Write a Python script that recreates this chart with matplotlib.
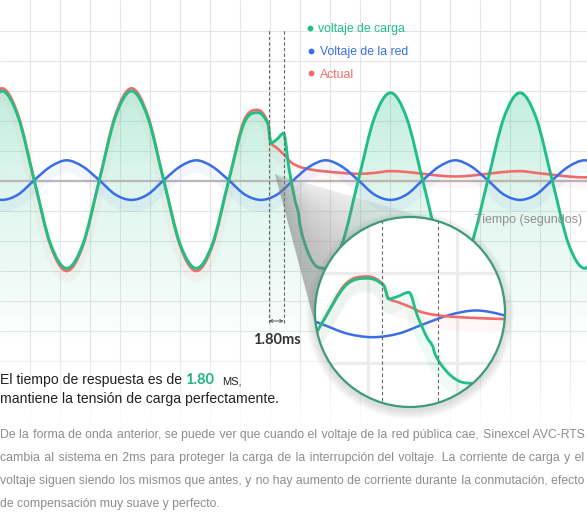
import numpy as np
import matplotlib
matplotlib.use("Agg")
import matplotlib.pyplot as plt
from matplotlib.path import Path
from matplotlib.patches import PathPatch, Circle, Polygon
from matplotlib import transforms
from matplotlib.collections import LineCollection

# ---------------- data ----------------
# time in ms, values normalised to the load-voltage amplitude
t_grid = [-2.5, 0, 2.5, 5, 7.5, 10, 12.5, 15, 17.5, 20, 22.5, 25, 27.5, 30, 32.5,
          35, 37.5, 40, 42.5, 45, 47.5, 50, 52.5, 55, 57.5, 60, 62.5, 65, 67.5,
          70, 72.5, 75, 77.5, 80, 82.5, 85, 87.5, 90, 92.5]
grid_voltage = [-0.15, -0.21, -0.15, 0.01, 0.16, 0.23, 0.16, 0.01, -0.15, -0.21,
                -0.15, 0.01, 0.16, 0.23, 0.16, 0.01, -0.15, -0.21, -0.15, 0.01,
                0.16, 0.23, 0.16, 0.01, -0.15, -0.21, -0.15, 0.01, 0.16, 0.23,
                0.16, 0.01, -0.15, -0.21, -0.15, 0.01, 0.16, 0.23, 0.16]

t_load = [-2.5, 0, 2.5, 5, 7.5, 10, 12.5, 15, 17.5, 20, 22.5, 25, 27.5, 30, 32.5,
          35, 37.5, 39.5, 41.1, 41.5, 42.4, 43.5, 44.3, 45.2, 45.8, 46.0, 46.6,
          47.6, 48.6, 49.8, 52.5, 55, 57.5, 60, 62.5, 65, 67.5, 70, 72.5, 75,
          77.5, 80, 82.5, 85, 87.5, 90, 92.5]
load_voltage = [0.71, 1.0, 0.71, 0.0, -0.70, -0.97, -0.70, 0.0, 0.71, 1.0, 0.71,
                0.0, -0.70, -0.97, -0.70, 0.0, 0.66, 0.76, 0.63, 0.42, 0.46, 0.53,
                0.15, -0.20, -0.36, -0.48, -0.66, -0.85, -0.95, -0.97, -0.70, 0.0,
                0.70, 0.98, 0.70, 0.0, -0.70, -0.97, -0.70, 0.0, 0.70, 0.98, 0.70,
                0.0, -0.70, -0.97, -0.70]

t_current = [-2.5, 0, 2.5, 5, 7.5, 10, 12.5, 15, 17.5, 20, 22.5, 25, 27.5, 30,
             32.5, 35, 37.5, 39.5, 41.0, 41.5, 42.4, 43.6, 44.6, 45.9, 47.5, 49.5,
             52.5, 55, 57.5, 60, 62.5, 65, 67.5, 70, 72.5, 75, 77.5, 80, 82.5, 85,
             87.5, 90, 92.5]
current = [0.73, 1.03, 0.73, 0.0, -0.72, -1.0, -0.72, 0.0, 0.73, 1.03, 0.73, 0.0,
           -0.72, -1.0, -0.72, 0.0, 0.69, 0.79, 0.66, 0.44, 0.37, 0.29, 0.21, 0.16,
           0.13, 0.11, 0.09, 0.08, 0.09, 0.11, 0.10, 0.08, 0.06, 0.05, 0.06, 0.08,
           0.10, 0.11, 0.09, 0.07, 0.05, 0.04, 0.05]

event_times = [41.2, 43.5]          # dashed markers (ms)
response_label = "1.80ms"
legend_labels = ["voltaje de carga", "Voltaje de la red", "Actual"]
axis_label = "Tiempo (segundos)"
heading = ["El tiempo de respuesta es de ", "1.80", "MS,",
           "mantiene la tensión de carga perfectamente."]
paragraph = [
    "De la forma de onda anterior, se puede ver que cuando el voltaje de la red pública cae, Sinexcel AVC-RTS",
    "cambia al sistema en 2ms para proteger la carga de la interrupción del voltaje. La corriente de carga y el",
    "voltaje siguen siendo los mismos que antes, y no hay aumento de corriente durante la conmutación, efecto",
    "de compensación muy suave y perfecto.",
]

# ---------------- style / layout ----------------
GREEN, BLUE, RED = "#1fbf86", "#3a6ee6", "#f26b6b"
W, H, DPI = 587, 520, 100
PX_PER_MS, X0_PX, ZERO_PX, PX_PER_V = 6.475, 2.0, 181.0, 90.0
CIRC_C, CIRC_R = (410.0, 312.0), 95.0
APEX = (275.0, 174.0)
PARA_SIZE = 8.85
PARA_FAMILY = ["Liberation Sans", "DejaVu Sans"]
PARA_RIGHT = 585

fig = plt.figure(figsize=(W / DPI, H / DPI), dpi=DPI)
fig.patch.set_facecolor("white")


def px_axes(z):
    a = fig.add_axes([0, 0, 1, 1], zorder=z)
    a.set_xlim(0, W)
    a.set_ylim(H, 0)
    a.axis("off")
    return a


def v_of_py(y):
    return (ZERO_PX - y) / PX_PER_V


def smooth_path(t, v):
    t = np.asarray(t, float)
    v = np.asarray(v, float)
    h = np.diff(t)
    d = np.diff(v) / h
    n = len(t)
    m = np.empty(n)
    m[0], m[-1] = d[0], d[-1]
    for i in range(1, n - 1):
        if d[i - 1] * d[i] <= 0:
            m[i] = 0.0
        else:
            c = (v[i + 1] - v[i - 1]) / (t[i + 1] - t[i - 1])
            lim = 3 * min(abs(d[i - 1]), abs(d[i]))
            m[i] = np.sign(c) * min(abs(c), lim)
    verts = [(t[0], v[0])]
    codes = [Path.MOVETO]
    for i in range(n - 1):
        verts += [(t[i] + h[i] / 3, v[i] + m[i] * h[i] / 3),
                  (t[i + 1] - h[i] / 3, v[i + 1] - m[i + 1] * h[i] / 3),
                  (t[i + 1], v[i + 1])]
        codes += [Path.CURVE4] * 3
    return verts, codes


def draw_curve(axis, t, v, color, lw, z, glow=(), clip=None):
    verts, codes = smooth_path(t, v)
    p = Path(verts, codes)
    for dy, gw, ga in glow:
        tr = axis.transData + transforms.Affine2D().translate(0, -dy)
        g = PathPatch(p, transform=tr, fc="none", ec=color, lw=gw, alpha=ga,
                      zorder=z - 0.5, capstyle="round", joinstyle="round")
        axis.add_patch(g)
        if clip is not None:
            g.set_clip_path(clip)
    pp = PathPatch(p, transform=axis.transData, fc="none", ec=color, lw=lw,
                   zorder=z, capstyle="round", joinstyle="round")
    axis.add_patch(pp)
    if clip is not None:
        pp.set_clip_path(clip)
    return verts, codes


# ---------------- grid layer (pixel axes) ----------------
axg = px_axes(0)
gx = np.arange(29.5, W, 30)
segs, cols = [], []
for x in gx:
    segs.append([(x, 0), (x, 360)])
    cols.append((0.9, 0.9, 0.9, 1.0))
    for k in range(6):
        y0 = 360 + k * 11
        segs.append([(x, y0), (x, y0 + 11)])
        cols.append((0.9, 0.9, 0.9, 0.8 - k * 0.13))
for y in np.arange(30.5, 361, 30):
    segs.append([(0, y), (W, y)])
    cols.append((0.9, 0.9, 0.9, 1.0 if y < 340 else 0.6))
axg.add_collection(LineCollection(segs, colors=cols, linewidths=0.8))

# ---------------- data layer ----------------
ax = fig.add_axes([0, 0, 1, 1], zorder=1)
ax.axis("off")
XL = (-X0_PX / PX_PER_MS, (W - X0_PX) / PX_PER_MS)
YL = (v_of_py(H), v_of_py(0))

# gradient fill under the load voltage
lv, lc = smooth_path(t_load, load_voltage)
vb = v_of_py(345)
fill_path = Path(lv + [(t_load[-1], vb), (t_load[0], vb), (t_load[0], vb)],
                 lc + [Path.LINETO, Path.LINETO, Path.CLOSEPOLY])
fill_patch = PathPatch(fill_path, transform=ax.transData, fc="none", ec="none")
ax.add_patch(fill_patch)
rows = np.linspace(vb, 1.05, 300)
alpha = np.interp(rows, [vb, -1.0, 0.0, 1.05], [0.0, 0.08, 0.15, 0.28])
img = np.zeros((300, 1, 4))
img[..., :3] = matplotlib.colors.to_rgb(GREEN)
img[:, 0, 3] = alpha
im = ax.imshow(img, extent=[XL[0] - 1, XL[1] + 1, vb, 1.05], origin="lower",
               aspect="auto", interpolation="bilinear", zorder=2)
im.set_clip_path(fill_patch)

ax.axhline(0, color="#b8b8b8", lw=1.6, zorder=2.5)

draw_curve(ax, t_current, current, RED, 1.9, 3, glow=[(6, 8, 0.05)])
draw_curve(ax, t_grid, grid_voltage, BLUE, 1.8, 3.5, glow=[(6, 9, 0.06)])
draw_curve(ax, t_load, load_voltage, GREEN, 2.1, 4)

ax.vlines(event_times, v_of_py(323), v_of_py(30), colors="#666666", lw=0.8,
          linestyles=(0, (3, 2)), zorder=5)
ax.annotate("", xy=(event_times[1], v_of_py(321)), xytext=(event_times[0], v_of_py(321)),
            arrowprops=dict(arrowstyle="<->", color="#555555", lw=0.7,
                            shrinkA=0, shrinkB=0, mutation_scale=5), zorder=5)
ax.set_xlim(*XL)
ax.set_ylim(*YL)

# ---------------- overlay layer: cone, shadow, text ----------------
axo = px_axes(2)
ax_c = np.array(CIRC_C)
ap = np.array(APEX)
dvec = ax_c - ap
dist = np.hypot(*dvec)
base = np.arctan2(dvec[1], dvec[0])
half = np.arcsin(CIRC_R / dist)
tl = np.sqrt(dist ** 2 - CIRC_R ** 2)
a1, a2 = base - half, base + half
T1 = ap + tl * np.array([np.cos(a1), np.sin(a1)])
T2 = ap + tl * np.array([np.cos(a2), np.sin(a2)])
cone = Polygon([ap, T1, ax_c, T2], closed=True, fc="none", ec="none")
axo.add_patch(cone)
xs = np.linspace(ap[0], T1[0] + 5, 160)
ys = np.linspace(ap[1], T2[1] + 5, 160)
X, Y = np.meshgrid(xs, ys)
ang = np.arctan2(Y - ap[1], X - ap[0])
frac = np.clip((ang - a1) / (a2 - a1), 0, 1)
cimg = np.zeros((160, 160, 4))
cimg[..., :3] = 0.5
cimg[..., 3] = 0.14 + 0.42 * frac
cim = axo.imshow(cimg, extent=[xs[0], xs[-1], ys[-1], ys[0]], origin="upper",
                 aspect="auto", interpolation="bilinear", zorder=1)
cim.set_clip_path(cone)

for k in range(1, 10):
    axo.add_patch(Circle((CIRC_C[0], CIRC_C[1] + 3), CIRC_R + k, fc="#6f7f79",
                         ec="none", alpha=0.028, zorder=2))

# legend
for i, (lab, col) in enumerate(zip(legend_labels, [GREEN, BLUE, RED])):
    yb = [32, 55, 77.5][i]
    axo.plot([310 + (i > 0)], [yb - 4.2], "o", ms=4.2, color=col, mec="none", zorder=5)
    axo.text(318 + 2 * (i > 0), yb, lab, color=col, fontsize=8.8,
             family="Liberation Sans", va="baseline", zorder=5)

axo.text(475, 223, axis_label, color="#8f8f8f", fontsize=9,
         family="Liberation Sans", va="baseline", zorder=5)
axo.text(276.5, 344, response_label, color="#333333", fontsize=10.5,
         family="Lato", weight="bold", ha="center", va="baseline", zorder=5)

# heading
axo.text(0, 384, heading[0], color="#222222", fontsize=10.1,
         family="Liberation Sans", va="baseline")
axo.text(185, 384, heading[1], color="#1db57f", fontsize=10.5,
         family="Lato", weight="bold", va="baseline")
axo.text(222, 384, heading[2], color="#222222", fontsize=8,
         family="Liberation Sans", va="baseline")
axo.text(0, 403, heading[3], color="#222222", fontsize=10.1,
         family="Liberation Sans", va="baseline")

# paragraph: one text per line, justified with hair spaces
renderer = fig.canvas.get_renderer()
HAIR = "\u200a"


def text_width(s):
    t = axo.text(0, 0, s, fontsize=PARA_SIZE, family=PARA_FAMILY)
    w = t.get_window_extent(renderer).width
    t.remove()
    return w


def spread(words, total):
    n = len(words) - 1
    parts = [words[0]]
    used = 0
    for g in range(n):
        k = int(round(total * (g + 1) / n)) - used
        used += k
        parts.append(" " + HAIR * k + words[g + 1])
    return "".join(parts)


base_y = [438, 461, 484, 507]
for li, line in enumerate(paragraph):
    words = line.split(" ")
    s = line
    if li < len(paragraph) - 1:
        lo, hi = 0, 200
        while lo < hi:
            mid = (lo + hi + 1) // 2
            if text_width(spread(words, mid)) <= PARA_RIGHT:
                lo = mid
            else:
                hi = mid - 1
        s = spread(words, lo)
    axo.text(0, base_y[li], s, color="#8c8c8c", fontsize=PARA_SIZE,
             family=PARA_FAMILY, va="baseline")

# ---------------- magnifier inset ----------------
bx, by, bw, bh = 315, 217, 190, 190
ax_in = fig.add_axes([bx / W, (H - by - bh) / H, bw / W, bh / H], zorder=3)
ax_in.axis("off")
clip = Circle((0.5, 0.5), 0.5, transform=ax_in.transAxes, fc="white", ec="none", zorder=0)
ax_in.add_patch(clip)
for fx in [0.279, 0.747]:
    l, = ax_in.plot([fx, fx], [0, 1], transform=ax_in.transAxes, color="#ececec", lw=2.3, zorder=1)
    l.set_clip_path(clip)
for fy in [0.705, 0.232]:
    l, = ax_in.plot([0, 1], [fy, fy], transform=ax_in.transAxes, color="#ececec", lw=2.3, zorder=1)
    l.set_clip_path(clip)
for fx in [0.353, 0.647]:
    l, = ax_in.plot([fx, fx], [0, 1], transform=ax_in.transAxes, color="#666666", lw=0.8,
                    ls=(0, (3, 2.5)), zorder=5)
    l.set_clip_path(clip)

draw_curve(ax_in, t_grid, grid_voltage, BLUE, 1.8, 3, clip=clip)
draw_curve(ax_in, t_current, current, RED, 1.9, 3.5, glow=[(7, 10, 0.05)], clip=clip)
draw_curve(ax_in, t_load, load_voltage, GREEN, 2.0, 4, glow=[(7, 11, 0.07)], clip=clip)
ax_in.add_patch(Circle((0.5, 0.5), 0.5, transform=ax_in.transAxes, fc="none",
                       ec="#3f9a7a", lw=1.6, zorder=10, clip_on=False))
ax_in.set_xlim(34.4, 52.8)
ax_in.set_ylim(-1.36, 1.77)

fig.savefig("out.png", dpi=DPI, facecolor="white")
